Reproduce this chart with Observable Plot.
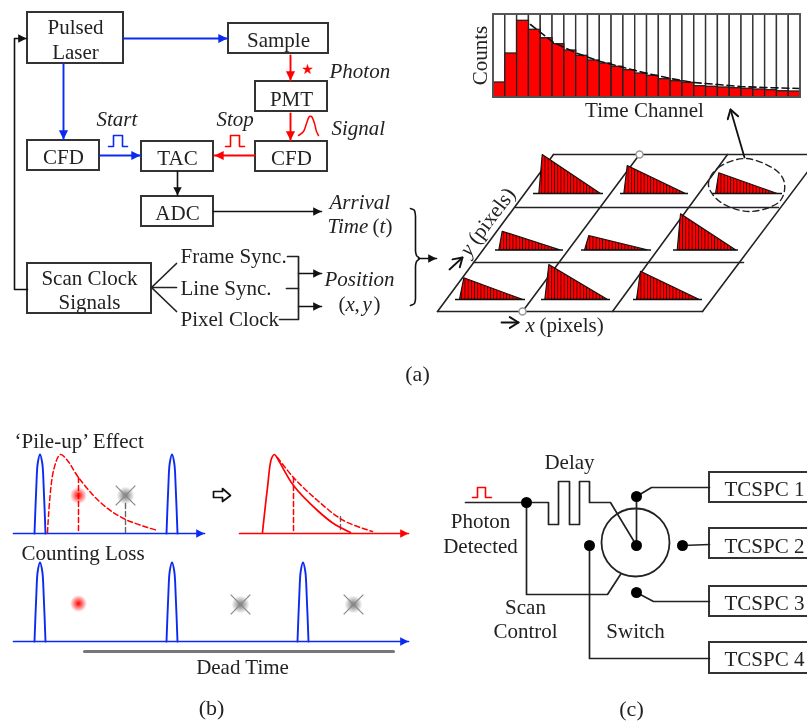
<!DOCTYPE html>
<html><head><meta charset="utf-8">
<style>html,body{margin:0;padding:0;background:#fff}svg{display:block;filter:blur(0.35px)}</style>
<script src="https://cdn.jsdelivr.net/npm/d3@7"></script>
<script src="https://cdn.jsdelivr.net/npm/@observablehq/plot@0.6"></script>
</head><body><div id="chart"></div>
<script>
// ---- boxes: label lines are in boxLabels
const boxes = [
  [27,12,123,63],[228,23,328,53],[255,81,327,111],[27,140,99,170],[141,141,213,171],
  [255,141,327,171],[141,196,213,226],[27,263,151,313],
  [709,472,830,502],[709,528,830,558],[709,586,830,616],[709,642,830,673]
];
const boxLabels = [
  ["Pulsed",75,33],["Laser",75,58],["Sample",278,46],["PMT",291,105],["CFD",63,163],["TAC",177,164],
  ["CFD",291,164],["ADC",177,219],["Scan Clock",89,284],["Signals",89,308],
  ["TCSPC 1",764,495],["TCSPC 2",764,552],["TCSPC 3",764,609],["TCSPC 4",764,665],
  ["Time Channel",644,116],["Dead Time",242,673],["Delay",569,468],["Photon",480,527],["Detected",480,552],
  ["Scan",525,613],["Control",525,637],["Switch",635,637]
];
const leftLabels = [
  ["Frame Sync.",180,262],["Line Sync.",180,294],["Pixel Clock",180,325],
  ["\u2018Pile-up\u2019 Effect",14,447],["Counting Loss",21,559],
  ["(",338,310],[",",354,310],[")",373,310],["(",372,232],[")",385,232],["(pixels)",539,331]
];
const italicLabels = [
  ["Photon",329,77],["Start",96,125],["Stop",216,125],["Signal",331,134],["Arrival",329,208],["Time",327,232],
  ["Position",324,285],["x",345,310],["y",362,310],["t",379,232],["x",525,331]
];
const panelLabels = [["(a)",417,380],["(b)",211,714],["(c)",631,715]];

// ---- wiring
const blueArrows = [[[123,38],[227,38]],[[63,63],[63,139]],[[99,155],[140,155]]];
const redArrows = [[[254,155],[214,155]],[[290,55],[290,80]],[[290,113],[290,140]]];
const blackArrows = [[[177,171],[177,195]],[[213,211],[321,211]],[[298,273],[321,273]],[[298,306],[321,306]],[[418,258],[436,258]],[[27,289],[14,289],[14,38],[26,38]]];
const openArrows = [[[744,157],[730,109]],[[501,322],[518,322]],[[449,269],[462,257]]];
const blackWires = [
  [[151,287],[176,263]],[[151,287],[176,287]],[[151,287],[176,311]],
  [[287,256],[298,256],[298,319],[279,319]],[[286,288],[298,288]],
  [[465,502],[526,502]],
  [[526,502],[548,502],[548,524],[558,524],[558,481],[569,481],[569,524],[579,524],[579,481],[589,481],[589,502],[610,502],[636,545]],
  [[636,496],[636,545]],
  [[526,502],[526,594],[607,594],[620,574]],
  [[636,496],[651,487],[709,487]],[[682,545],[709,544]],[[636,592],[653,601],[709,601]],
  [[589,545],[589,658],[709,658]]
];
const bluePulses = [[108,146,113,146,113,135,122,135,122,146,127,146]];
const redPulses = [[225,146,230,146,230,135,239,135,239,146,244,146],[472,497,477,497,477,487,485,487,485,497,491,497]];
const signalCurve = [[298,135],[303,131],[306,123],[309,116],[311,116],[314,123],[316,131],[318,135]];
const brace = [[410,208],[414,210],[415,216],[415,250],[416,255],[419,258],[416,261],[415,266],[415,298],[414,303],[410,305]];

// ---- histogram (counts in px units of the drawing)
const counts = [15,44,76.7,67.7,59.3,53.3,47,41.7,37,34,30.7,27.3,24,21.7,18.3,16.3,14.7,11.3,10.7,10,9.3,8.7,8,7.3,6.3,6];
const decayX = [530,553,577,600,623,647,670,693,717,740,763,800];
const decayY = [24,42,53,61,67,73,78,82,84,86,87,88];

// ---- lattice
const gridLines = [[[553,154],[830,154]],[[515,207],[778,207]],[[473,262],[743,262]],[[437,311],[702,311]],
  [[553,154],[437,311]],[[639,154],[522,311]],[[727,154],[612,311]],[[820,154],[702,311]]];
const gridKnots = [[639,154],[522,311]];
const triangles = [
  [541.7,154,538.3,193,600,193],[626.7,165,623.3,193,685,193],[718.3,172.3,715,193,776.7,193],
  [501.7,230.7,498.3,249.3,559.3,249.3],[588.3,235,584,249.3,646.7,249.3],[680,213.3,676.7,249.3,735,249.3],
  [463.3,277.3,459,298.7,521.7,298.7],[548.3,264,544.3,298.7,606.7,298.7],[640,270.7,636,298.7,698.3,298.7]
];
const triBases = [[533,603],[620,688],[712,782],[495,563],[581,651],[673,738],[455,525],[541,610],[633,702]];
const triBaseY = [193,193,193,249.5,249.5,249.5,299,299,299];
const lens = [[708,185],[718,167],[745,158],[773,168],[784,183],[778,202],[750,211],[722,203]];

// ---- panel (b)
const blueAxes = [[[13,533],[204,533]],[[13,641],[408,641]]];
const redAxes = [[[239,533],[408,533]]];
const pulseDx = [-5.5,-3.7,-2.3,0,2.3,3.7,5.5];
const pulseRise = [0,46,70,79,70,46,0];
const pulseCentres = [[39.5,533],[171.5,533],[39.5,641],[171.5,641],[302.5,641]];
const dashedPile = [[47,532],[53,470],[60,454],[67,460],[78,477],[100,502],[123,518],[157,530]];
const solidFall = [[262,532],[267,487],[271,458],[274,454],[277,458],[293,485],[317,510],[333,523],[350,532]];
const dashedFall = [[277,457],[293,477],[317,500],[343,520],[372,531]];
const redDashes = [[[78,477],[78,532]],[[293,477],[293,532]]];
const grayDashes = [[[125,503],[125,532]],[[340,516],[340,532]]];
const redGlows = [[78,495],[78,603]];
const grayGlows = [[125,495],[240,604],[353,604]];
const hollowArrow = [[213,491],[222,491],[222,488],[230,495],[222,501],[222,497],[213,497],[213,491]];
const deadTime = [[84,651],[393,651]];

// ---- panel (c)
const wireDots = [[526,502],[636,496],[636,545],[589,545],[682,545],[636,592]];
const switchRing = [[635,542]];

// ---- helpers
const rows = (list) => list.flatMap((pts, k) => pts.map(([x, y]) => ({k, x, y})));
const rowsFlat = (list) => list.flatMap((a, k) => d3.range(0, a.length, 2).map(i => ({k, x: a[i], y: a[i+1]})));
const serif = "'Liberation Serif','Times New Roman',serif";
const ink = "#222";
const label = (d) => d[0], lx = (d) => d[1], ly = (d) => d[2];
function head(size, open) {
  return (color) => {
    const m = d3.create("svg:marker")
      .attr("viewBox", "-10 -6 11 12").attr("markerUnits", "userSpaceOnUse")
      .attr("markerWidth", size).attr("markerHeight", size).attr("refX", 0).attr("refY", 0).attr("orient", "auto");
    const p = m.append("path");
    if (open) p.attr("d", "M-8,-5L0,0L-8,5").attr("fill", "none").attr("stroke", color).attr("stroke-width", 1.8);
    else p.attr("d", "M-10,-5L0,0L-10,5z").attr("fill", color).attr("stroke", "none");
    return m.node();
  };
}
const wire = (list, stroke, extra = {}) => Plot.line(rows(list), {x: "x", y: "y", z: "k", stroke, strokeWidth: 1.9, curve: "linear", ...extra});
const txt = (list, extra) => Plot.text(list, {text: label, x: lx, y: ly, lineAnchor: "bottom", fontFamily: serif, fontSize: 21, fill: ink, ...extra});

const histX0 = 493, histW = 11.81, histBase = 97, histTop = 14;

const chart = Plot.plot({
  width: 807, height: 721, margin: 0,
  x: {domain: [0, 807], range: [0, 807], axis: null},
  y: {domain: [0, 721], range: [0, 721], axis: null},
  marks: [
    // histogram
    Plot.rect(counts, {x1: (d,i) => histX0 + i*histW, x2: (d,i) => histX0 + (i+1)*histW, y1: () => histTop, y2: () => histBase, fill: "white", stroke: "#333", strokeWidth: 1.4, inset: 0}),
    Plot.rect(counts, {x1: (d,i) => histX0 + i*histW, x2: (d,i) => histX0 + (i+1)*histW, y1: (d) => histBase - d, y2: () => histBase, fill: "#f00", stroke: "#222", strokeWidth: 1.3}),
    Plot.line(decayX.map((x,i) => ({x, y: decayY[i]})), {x: "x", y: "y", stroke: "#111", strokeWidth: 1.6, strokeDasharray: "7 4", curve: "linear"}),
    Plot.rect([0], {x1: () => histX0, x2: () => histX0 + 26*histW, y1: () => histTop, y2: () => histBase, fill: "none", stroke: "#555", strokeWidth: 1.8}),
    Plot.text(["Counts"], {x: () => 480, y: () => 55, rotate: -90, fontFamily: serif, fontSize: 21, fill: ink}),

    // lattice
    wire(gridLines, "#222", {strokeWidth: 1.6}),
    Plot.dot(gridKnots, {x: d => d[0], y: d => d[1], r: 3.5, fill: "white", stroke: "#999", strokeWidth: 1.5}),
    Plot.line(triangles.flatMap((t, k) => [[t[0],t[1]],[t[2],t[3]],[t[4],t[5]],[t[0],t[1]]].map(([x,y]) => ({k,x,y}))), {x: "x", y: "y", z: "k", fill: "url(#stripes)", stroke: "#111", strokeWidth: 1.1, curve: "linear"}),
    Plot.ruleY(triBases.map((b,i) => ({x1: b[0], x2: b[1], y: triBaseY[i]})), {x1: "x1", x2: "x2", y: "y", stroke: "#111", strokeWidth: 1.4}),
    Plot.line(lens, {x: d => d[0], y: d => d[1], curve: "cardinal-closed", stroke: "#222", strokeWidth: 1.4, strokeDasharray: "6 4"}),

    // block diagram
    Plot.rect(boxes, {x1: d => d[0], y1: d => d[1], x2: d => d[2], y2: d => d[3], fill: "white", stroke: "#333", strokeWidth: 2}),
    wire(blueArrows, "#0b2bf0", {markerEnd: head(11)}),
    wire(redArrows, "#f00", {markerEnd: head(11)}),
    wire(blackArrows, "#111", {markerEnd: head(10), strokeWidth: 1.6}),
    wire(openArrows, "#111", {markerEnd: head(13, true), strokeWidth: 1.8}),
    wire(blackWires, "#222", {strokeWidth: 1.7}),
    Plot.line(rowsFlat(bluePulses), {x: "x", y: "y", z: "k", stroke: "#0b2bf0", strokeWidth: 1.6}),
    Plot.line(rowsFlat(redPulses), {x: "x", y: "y", z: "k", stroke: "#f00", strokeWidth: 1.6}),
    Plot.line(signalCurve, {x: d => d[0], y: d => d[1], curve: "catmull-rom", stroke: "#f00", strokeWidth: 1.5}),
    Plot.line(brace, {x: d => d[0], y: d => d[1], curve: "monotone-y", stroke: "#111", strokeWidth: 1.6}),
    Plot.dot([[307,69]], {x: d => d[0], y: d => d[1], symbol: "star", r: 3, fill: "#f00", stroke: "#f00", strokeWidth: 0.5}),

    // panel b
    wire(redDashes, "#f00", {strokeDasharray: "5 3", strokeWidth: 1.5}),
    wire(grayDashes, "#666", {strokeDasharray: "5 3", strokeWidth: 1.4}),
    wire(blueAxes, "#0b2bf0", {markerEnd: head(10), strokeWidth: 1.7}),
    wire(redAxes, "#f00", {markerEnd: head(10), strokeWidth: 1.7}),
    Plot.line(pulseCentres.flatMap(([c, b], k) => pulseDx.map((dx, i) => ({k, x: c + dx, y: b - pulseRise[i]}))), {x: "x", y: "y", z: "k", curve: "catmull-rom", stroke: "#0b2bf0", strokeWidth: 1.9}),
    Plot.line(dashedPile, {x: d => d[0], y: d => d[1], curve: "catmull-rom", stroke: "#f00", strokeWidth: 1.5, strokeDasharray: "5 3"}),
    Plot.line(solidFall, {x: d => d[0], y: d => d[1], curve: "catmull-rom", stroke: "#f00", strokeWidth: 1.7}),
    Plot.line(dashedFall, {x: d => d[0], y: d => d[1], curve: "catmull-rom", stroke: "#f00", strokeWidth: 1.5, strokeDasharray: "5 3"}),
    Plot.dot(redGlows, {x: d => d[0], y: d => d[1], r: 8.5, fill: "url(#glowRed)"}),
    Plot.dot(grayGlows, {x: d => d[0], y: d => d[1], r: 9, fill: "url(#glowGray)"}),
    Plot.dot(grayGlows, {x: d => d[0], y: d => d[1], symbol: "times", r: 9, stroke: "#888", strokeWidth: 1.2}),
    Plot.line(hollowArrow, {x: d => d[0], y: d => d[1], fill: "white", stroke: "#111", strokeWidth: 1.7}),
    wire([deadTime], "#777", {strokeWidth: 3}),

    // panel c
    Plot.dot(switchRing, {x: d => d[0], y: d => d[1], r: 34, fill: "none", stroke: "#222", strokeWidth: 1.8}),
    Plot.dot(wireDots, {x: d => d[0], y: d => d[1], r: 5.5, fill: "#000"}),

    // text
    txt(boxLabels, {textAnchor: "middle"}),
    txt(leftLabels, {textAnchor: "start"}),
    txt(italicLabels, {textAnchor: "start", fontStyle: "italic"}),
    txt([["y",469,257]], {textAnchor: "start", fontStyle: "italic", rotate: -53}),
    txt([["(pixels)",477,245]], {textAnchor: "start", rotate: -53}),
    txt(panelLabels, {textAnchor: "middle", fontSize: 22})
  ]
});

const defs = d3.select(chart).insert("defs", ":first-child");
const pat = defs.append("pattern").attr("id", "stripes").attr("patternUnits", "userSpaceOnUse").attr("width", 3.2).attr("height", 4);
pat.append("rect").attr("width", 3.2).attr("height", 4).attr("fill", "#f00");
pat.append("rect").attr("width", 0.9).attr("height", 4).attr("fill", "#400");
function glow(id, c) {
  const g = defs.append("radialGradient").attr("id", id);
  g.append("stop").attr("offset", "0%").attr("stop-color", c).attr("stop-opacity", 1);
  g.append("stop").attr("offset", "45%").attr("stop-color", c).attr("stop-opacity", 0.55);
  g.append("stop").attr("offset", "100%").attr("stop-color", c).attr("stop-opacity", 0);
}
glow("glowRed", "#f00");
glow("glowGray", "#777");
document.getElementById("chart").append(chart);
</script></body></html>
